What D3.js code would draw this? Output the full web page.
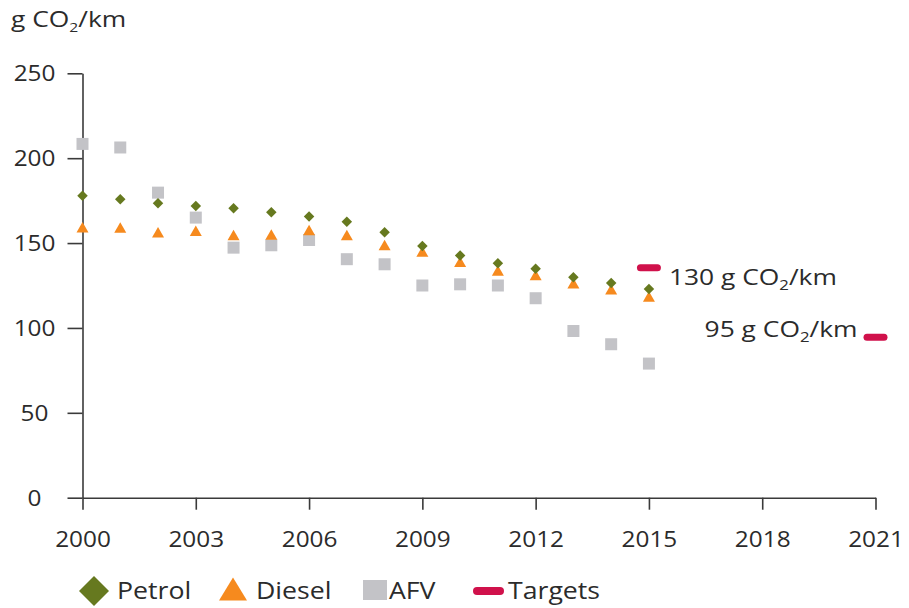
<!DOCTYPE html>
<html>
<head>
<meta charset="utf-8">
<script src="https://cdn.jsdelivr.net/npm/d3@7"></script>
<style>
  html, body { margin: 0; padding: 0; background: #fff; }
  svg { display: block; }
  text { font-family: "Open Sans", "DejaVu Sans", sans-serif; fill: #2b2b2b; }
</style>
</head>
<body>
<svg id="chart" width="909" height="608"></svg>
<script>
// ---- data ----
const years  = [2000, 2001, 2002, 2003, 2004, 2005, 2006, 2007, 2008, 2009, 2010, 2011, 2012, 2013, 2014, 2015];
const petrol = [177.8, 175.8, 173.5, 171.9, 170.5, 168.2, 165.6, 162.6, 156.4, 148.3, 142.6, 138.1, 134.8, 129.9, 126.5, 123.0];
const diesel = [159.3, 159.1, 156.4, 157.2, 154.8, 155.0, 157.7, 154.8, 148.9, 145.0, 139.0, 133.8, 131.2, 126.3, 122.8, 118.5];
const afv    = [208.4, 206.3, 179.7, 165.0, 147.3, 148.7, 151.8, 140.5, 137.5, 125.0, 125.7, 125.0, 117.5, 98.2, 90.4, 79.0];
const targetYears  = [2015, 2021];
const targetValues = [135.5, 94.5];
const targetLabels = [["130 g CO", "2", "/km"], ["95 g CO", "2", "/km"]];
const yTicks = [0, 50, 100, 150, 200, 250];
const xTicks = [2000, 2003, 2006, 2009, 2012, 2015, 2018, 2021];
const legendNames = ["Petrol", "Diesel", "AFV", "Targets"];

const colors = { petrol: "#66791f", diesel: "#f68a1e", afv: "#c3c3c7", target: "#d0114b" };

const svg = d3.select("#chart");
const x = d3.scaleLinear().domain([2000, 2021]).range([82.5, 875.5]);
const y = d3.scaleLinear().domain([0, 250]).range([497.7, 73.3]);

// horizontally stretch text around its anchor x (reference font is wider)
function stretch(sel, sx) {
  sel.each(function () {
    const el = d3.select(this);
    const ax = +el.attr("x") || 0;
    el.attr("transform", `translate(${ax},0) scale(${sx},1) translate(${-ax},0)`);
  });
}

// ---- axes ----
const yAxis = svg.append("g").attr("transform", `translate(${x(2000)},0)`)
  .call(d3.axisLeft(y).tickValues(yTicks).tickSize(15).tickSizeOuter(0).tickPadding(0));
yAxis.select(".domain").attr("stroke", "#3a3a3a").attr("stroke-width", 1.6);
yAxis.selectAll(".tick line").attr("stroke", "#3a3a3a").attr("stroke-width", 1.6);
yAxis.selectAll(".tick text")
  .attr("x", -48).attr("text-anchor", "middle").attr("dy", "0.36em")
  .style("font-size", "21px").style("fill", "#2b2b2b")
  .call(stretch, 1.16);

const xAxis = svg.append("g").attr("transform", `translate(0,${y(0)})`)
  .call(d3.axisBottom(x).tickValues(xTicks).tickFormat(d3.format("d")).tickSize(12).tickSizeOuter(0));
xAxis.select(".domain").attr("stroke", "#3a3a3a").attr("stroke-width", 1.6);
xAxis.selectAll(".tick line").attr("stroke", "#3a3a3a").attr("stroke-width", 1.6);
xAxis.selectAll(".tick text")
  .attr("x", 0).attr("y", 49).attr("dy", 0)
  .style("font-size", "21px").style("fill", "#2b2b2b")
  .call(stretch, 1.16);

// axis title
const title = svg.append("text").attr("x", 11).attr("y", 27).style("font-size", "22px");
title.append("tspan").text("g CO");
title.append("tspan").text("2").attr("dy", 5).style("font-size", "13px");
title.append("tspan").text("/km").attr("dy", -5);
title.call(stretch, 1.2);

// ---- marker shapes ----
const diamond = (w, h) => `M0,${-h/2}L${w/2},0L0,${h/2}L${-w/2},0Z`;
const triangle = (w, h) => `M0,${-h/2}L${w/2},${h/2}L${-w/2},${h/2}Z`;

// AFV squares
svg.append("g").selectAll("rect").data(years).join("rect")
  .attr("x", (d, i) => x(d) - 6).attr("y", (d, i) => y(afv[i]) - 6)
  .attr("width", 12).attr("height", 12).attr("fill", colors.afv);

// Diesel triangles
svg.append("g").selectAll("path").data(years).join("path")
  .attr("transform", (d, i) => `translate(${x(d)},${y(diesel[i])})`)
  .attr("d", triangle(12, 10.5)).attr("fill", colors.diesel);

// Petrol diamonds
svg.append("g").selectAll("path").data(years).join("path")
  .attr("transform", (d, i) => `translate(${x(d)},${y(petrol[i])})`)
  .attr("d", diamond(10.5, 10.5)).attr("fill", colors.petrol);

// Targets
svg.append("g").selectAll("rect").data(targetYears).join("rect")
  .attr("x", d => x(d) - 12).attr("y", (d, i) => y(targetValues[i]) - 3.5)
  .attr("width", 24).attr("height", 7).attr("rx", 3.5).attr("fill", colors.target);

// target labels
const labelPos = [
  { x: x(2015) + 20, y: y(targetValues[0]) + 17, anchor: "start" },
  { x: x(2021) - 18, y: y(targetValues[1]) + 0, anchor: "end" }
];
targetLabels.forEach((parts, i) => {
  const t = svg.append("text").attr("x", labelPos[i].x).attr("y", labelPos[i].y)
    .attr("text-anchor", labelPos[i].anchor).style("font-size", "22px");
  t.append("tspan").text(parts[0]);
  t.append("tspan").text(parts[1]).attr("dy", 5).style("font-size", "14px");
  t.append("tspan").text(parts[2]).attr("dy", -5);
  t.call(stretch, 1.2);
});

// ---- legend ----
const lg = svg.append("g");
const lgY = 591;
lg.append("path").attr("transform", `translate(94,${lgY})`).attr("d", diamond(30, 30)).attr("fill", colors.petrol);
lg.append("path").attr("transform", `translate(233,${lgY - 2})`).attr("d", triangle(28, 23)).attr("fill", colors.diesel);
lg.append("rect").attr("x", 363).attr("y", 580).attr("width", 24).attr("height", 20).attr("fill", colors.afv);
lg.append("rect").attr("x", 473).attr("y", lgY - 4).attr("width", 31).attr("height", 8).attr("rx", 4).attr("fill", colors.target);
const legendX = [117, 256, 389, 508];
lg.selectAll("text.lg").data(legendNames).join("text").attr("class", "lg")
  .attr("x", (d, i) => legendX[i]).attr("y", 599)
  .style("font-size", "23px").text(d => d)
  .call(stretch, 1.16);
</script>
</body>
</html>
